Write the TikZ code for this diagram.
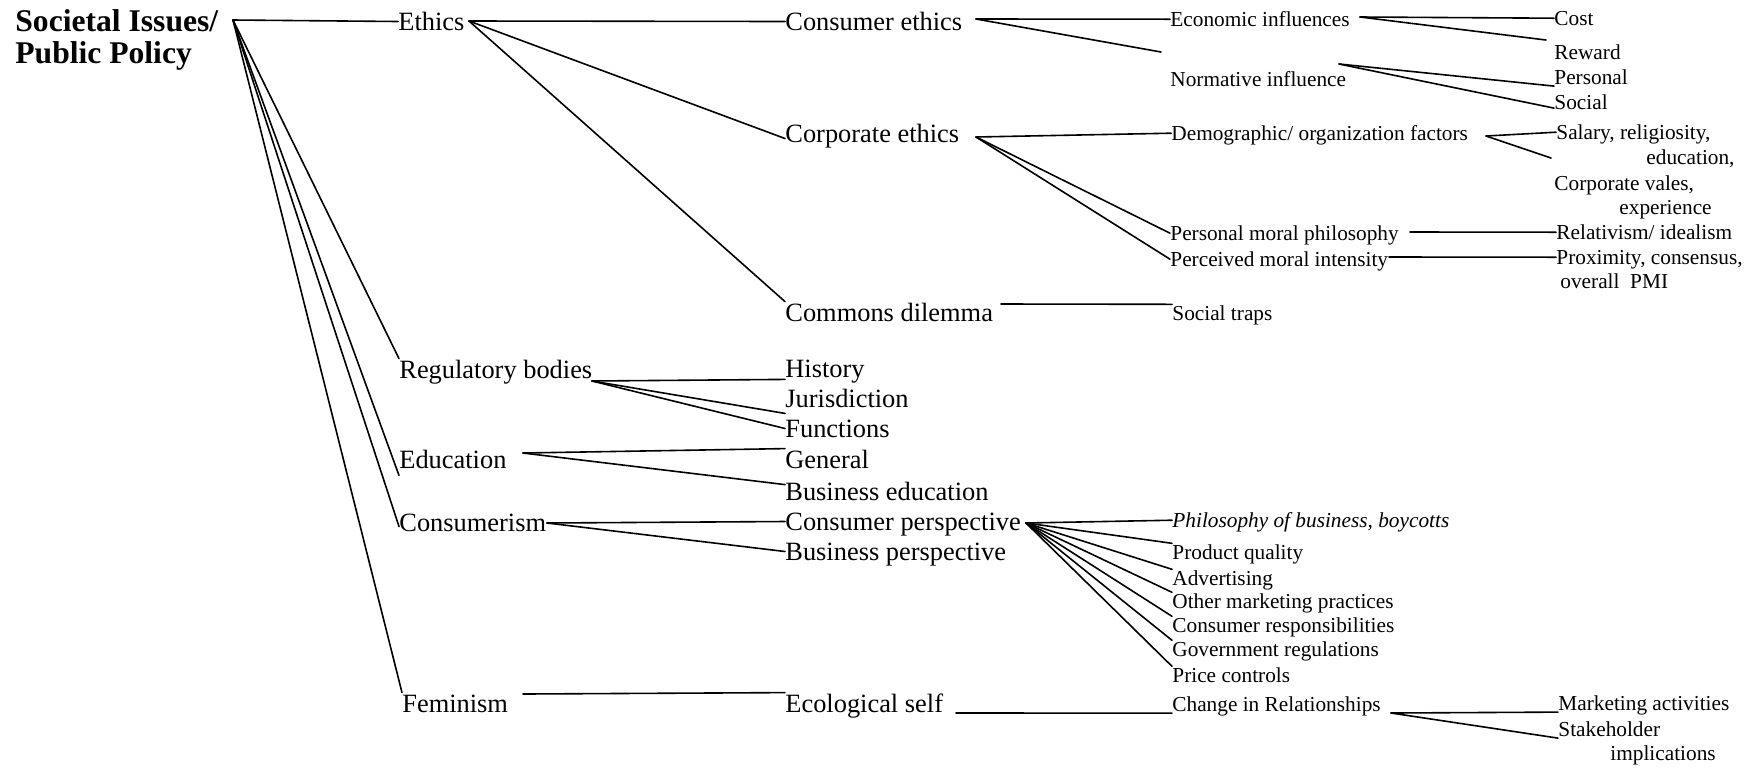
\documentclass[tikz,border=0pt]{standalone}
\usepackage{fontspec}
\setmainfont{Liberation Serif}
\begin{document}
\begin{tikzpicture}[x=0.5pt,y=-0.5pt,
  txt/.style={inner sep=0pt, anchor=base west},
  ttl/.style={txt, font=\fontsize{15.8}{16}\bfseries\selectfont},
  mid/.style={txt, text height=9.5pt, text depth=1pt, font=\fontsize{13.2}{15}\selectfont},
  sm/.style={txt, text height=7.65pt, text depth=0.85pt, font=\fontsize{10.65}{12}\selectfont},
  conn/.style={line width=0.8pt, line cap=round}]
\useasboundingbox (0,0) rectangle (1759,767);
% title
\node[ttl] (t1) at (15,31) {Societal Issues/};
\node[ttl] (t2) at (15,63) {Public Policy};
% level 1
\node[mid] (eth) at (398,30) {Ethics};
\node[mid] (reg) at (399,378) {Regulatory bodies};
\node[mid] (edu) at (399,468) {Education};
\node[mid] (cons) at (399,531) {Consumerism};
\node[mid] (fem) at (402,712) {Feminism};
% level 2
\node[mid] (cone) at (785,30) {Consumer ethics};
\node[mid] (core) at (785,142) {Corporate ethics};
\node[mid] (comm) at (785,321) {Commons dilemma};
\node[mid] (hist) at (785,377) {History};
\node[mid] (juris) at (785,407) {Jurisdiction};
\node[mid] (func) at (785,437) {Functions};
\node[mid] (gen) at (785,468) {General};
\node[mid] (busedu) at (785,500) {Business education};
\node[mid] (conp) at (785,530) {Consumer perspective};
\node[mid] (busp) at (785,560) {Business perspective};
\node[mid] (eco) at (785,712) {Ecological self};
% level 3
\node[sm] (econ) at (1170,26) {Economic influences};
\node[sm] (norm) at (1170,86) {Normative influence};
\node[sm] (demo) at (1171,140) {Demographic/ organization factors};
\node[sm] (pmp) at (1170,240) {Personal moral philosophy};
\node[sm] (pmi) at (1170,266) {Perceived moral intensity};
\node[sm] (straps) at (1172,320) {Social traps};
\node[sm] (phil) at (1172,527) {\itshape Philosophy of business, boycotts};
\node[sm] (pq) at (1172,559) {Product quality};
\node[sm] (adv) at (1172,585) {Advertising};
\node[sm] (omp) at (1172,608) {Other marketing practices};
\node[sm] (cresp) at (1172,632) {Consumer responsibilities};
\node[sm] (gov) at (1172,656) {Government regulations};
\node[sm] (price) at (1172,682) {Price controls};
\node[sm] (chg) at (1172,711) {Change in Relationships};
% level 4
\node[sm] (cost) at (1554,25) {Cost};
\node[sm] (reward) at (1554,59) {Reward};
\node[sm] (pers) at (1554,84) {Personal};
\node[sm] (soc) at (1554,109) {Social};
\node[sm] (sal) at (1556,139) {Salary, religiosity,};
\node[sm] (educ) at (1646,164) {education,};
\node[sm] (corpv) at (1554,190) {Corporate vales,};
\node[sm] (exper) at (1619,214) {experience};
\node[sm] (rel) at (1556,239) {Relativism/ idealism};
\node[sm] (prox) at (1556,264) {Proximity, consensus,};
\node[sm] (overall) at (1560,288) {overall\ \ PMI};
\node[sm] (mkt) at (1558,710) {Marketing activities};
\node[sm] (stake) at (1558,736) {Stakeholder};
\node[sm] (impl) at (1610,760) {implications};
% junction points and free ends
\coordinate (r0) at (233,20);
\coordinate (e0) at (469,21);
\coordinate (g0) at (592,381);
\coordinate (u0) at (523,453);
\coordinate (s0) at (547,523);
\coordinate (f0) at (523,694);
\coordinate (c0) at (976,19);
\coordinate (normend) at (1161,52);
\coordinate (k0) at (976,137);
\coordinate (cm0) at (1001,304);
\coordinate (p0) at (1026,523);
\coordinate (ec0) at (956,713);
\coordinate (x0) at (1360,17);
\coordinate (rwend) at (1546,40);
\coordinate (n0) at (1339,64);
\coordinate (d0) at (1486,136);
\coordinate (salend) at (1551,158);
\coordinate (pm0) at (1410,232);
\coordinate (pi0) at (1389,257);
\coordinate (ch0) at (1391,713);
% connectors
\draw[conn] (r0) -- (eth.west);
\draw[conn] (r0) -- (reg.north west);
\draw[conn] (r0) -- ([yshift=-2.5pt]edu.south west);
\draw[conn] (r0) -- ([yshift=-2pt]cons.west);
\draw[conn] (r0) -- (fem.north west);
\draw[conn] (e0) -- (cone.west);
\draw[conn] (e0) -- ([yshift=-2.5pt]core.west);
\draw[conn] (e0) -- (comm.north west);
\draw[conn] (g0) -- (hist.south west);
\draw[conn] (g0) -- ([yshift=-2pt]juris.south west);
\draw[conn] (g0) -- (func.west);
\draw[conn] (u0) -- (gen.north west);
\draw[conn] (u0) -- ([yshift=-2pt]busedu.north west);
\draw[conn] (s0) -- (conp.west);
\draw[conn] (s0) -- (busp.west);
\draw[conn] (f0) -- (eco.north west);
\draw[conn] (c0) -- (econ.west);
\draw[conn] (c0) -- (normend);
\draw[conn] (k0) -- (demo.west);
\draw[conn] (k0) -- (pmp.west);
\draw[conn] (k0) -- (pmi.west);
\draw[conn] (cm0) -- (straps.north west);
\draw[conn] (p0) -- (phil.west);
\draw[conn] (p0) -- (pq.north west);
\draw[conn] (p0) -- (adv.north west);
\draw[conn] (p0) -- (omp.north west);
\draw[conn] (p0) -- (cresp.north west);
\draw[conn] (p0) -- (gov.north west);
\draw[conn] (p0) -- (price.north west);
\draw[conn] (ec0) -- (chg.south west);
\draw[conn] (x0) -- (cost.west);
\draw[conn] (x0) -- (rwend);
\draw[conn] (n0) -- (pers.south west);
\draw[conn] (n0) -- ([yshift=1.5pt]soc.south west);
\draw[conn] (d0) -- (sal.west);
\draw[conn] (d0) -- (salend);
\draw[conn] (pm0) -- (rel.west);
\draw[conn] (pi0) -- (prox.west);
\draw[conn] (ch0) -- (mkt.south west);
\draw[conn] (ch0) -- (stake.south west);
\end{tikzpicture}
\end{document}
